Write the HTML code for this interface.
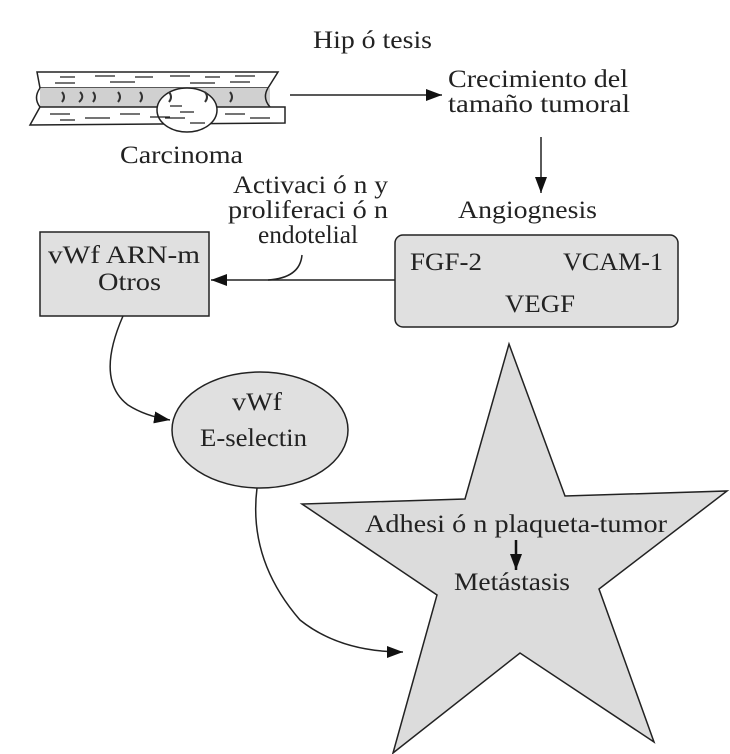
<!DOCTYPE html>
<html><head><meta charset="utf-8"><style>
body{margin:0;background:#fff}
svg{display:block}
text{font-family:"Liberation Serif",serif;font-size:25px;fill:#222}
</style></head><body>
<svg width="730" height="754" viewBox="0 0 730 754" xmlns="http://www.w3.org/2000/svg">
<defs>
<marker id="b" markerWidth="18" markerHeight="14" refX="16" refY="7" orient="auto" markerUnits="userSpaceOnUse"><path d="M0,1 L16,7 L0,13 z" fill="#111"/></marker></defs>
<!-- tube -->
<path d="M37,72 L278,72 L268,88 L40,88 Z" fill="#fff" stroke="#222" stroke-width="1.5"/>
<rect x="40" y="88" width="230" height="19" fill="#d0d0d0"/>
<path d="M40,88 Q33,98 40,107 M268,88 Q262,98 270,107" fill="none" stroke="#222" stroke-width="1.5"/>
<path d="M40,107 L285,107 L285,123 L30,125 Z" fill="#fff" stroke="#222" stroke-width="1.5"/>
<ellipse cx="187" cy="110" rx="30" ry="22" fill="#fff" stroke="#222" stroke-width="1.5"/>
<g stroke="#222" stroke-width="1.2">
<path d="M60,77h15M95,76h20M135,77h18M170,76h20M205,77h15M235,76h20M55,83h20M110,82h25M190,83h25M230,82h20"/>
<path d="M50,114h20M85,118h25M120,114h20M150,117h20M225,114h20M250,118h20M60,120h15M170,106h12M180,112h14M165,118h20M190,123h15"/>
</g>
<g fill="none" stroke="#333" stroke-width="2">
<path d="M62,92q4,5 0,10M80,92q5,5 -1,10M93,92q4,5 0,10M118,92q4,5 0,10M140,92q4,5 0,10M169,92q4,5 0,10M205,92q4,5 0,10M230,92q4,5 0,10"/>
</g>
<text x="120" y="163" textLength="123" lengthAdjust="spacingAndGlyphs">Carcinoma</text>
<text x="313" y="48" textLength="119" lengthAdjust="spacingAndGlyphs">Hip ó tesis</text>
<line x1="290" y1="95" x2="442" y2="95" stroke="#222" stroke-width="1.5" marker-end="url(#b)"/>
<text x="448" y="87" textLength="180" lengthAdjust="spacingAndGlyphs">Crecimiento del</text>
<text x="448" y="112" textLength="182" lengthAdjust="spacingAndGlyphs">tamaño tumoral</text>
<line x1="541" y1="137" x2="541" y2="193" stroke="#222" stroke-width="1.5" marker-end="url(#b)"/>
<text x="458" y="218" textLength="139" lengthAdjust="spacingAndGlyphs">Angiognesis</text>
<rect x="395" y="235" width="283" height="92" rx="8" fill="#e0e0e0" stroke="#222" stroke-width="1.5"/>
<text x="410" y="270" textLength="72" lengthAdjust="spacingAndGlyphs">FGF-2</text>
<text x="563" y="270" textLength="100" lengthAdjust="spacingAndGlyphs">VCAM-1</text>
<text x="505" y="312" textLength="70" lengthAdjust="spacingAndGlyphs">VEGF</text>
<text x="233" y="193" textLength="155" lengthAdjust="spacingAndGlyphs">Activaci ó n y</text>
<text x="228" y="218" textLength="160" lengthAdjust="spacingAndGlyphs">proliferaci ó n</text>
<text x="258" y="243" textLength="100" lengthAdjust="spacingAndGlyphs">endotelial</text>
<path d="M302,255 Q300,278 268,280" fill="none" stroke="#222" stroke-width="1.5"/>
<line x1="395" y1="280" x2="211" y2="280" stroke="#222" stroke-width="1.5" marker-end="url(#b)"/>
<rect x="40" y="232" width="169" height="84" fill="#e0e0e0" stroke="#222" stroke-width="1.5"/>
<text x="48" y="263" textLength="152" lengthAdjust="spacingAndGlyphs">vWf ARN-m</text>
<text x="98" y="290" textLength="63" lengthAdjust="spacingAndGlyphs">Otros</text>
<path d="M123,316 Q95,380 128,405 Q145,416 170,420" fill="none" stroke="#222" stroke-width="1.5" marker-end="url(#b)"/>
<ellipse cx="260" cy="430" rx="88" ry="58" fill="#e0e0e0" stroke="#222" stroke-width="1.5"/>
<text x="232" y="410" textLength="50" lengthAdjust="spacingAndGlyphs">vWf</text>
<text x="200" y="446" textLength="107" lengthAdjust="spacingAndGlyphs">E-selectin</text>
<path d="M257,488 Q248,560 300,620 Q340,652 403,652" fill="none" stroke="#222" stroke-width="1.5" marker-end="url(#b)"/>
<path d="M509,344 L565,496 L727,491 L599,589 L654,742 L520,653 L393,753 L437,595 L302,504 L465,499 Z" fill="#dcdcdc" stroke="#222" stroke-width="1.5"/>
<text x="365" y="532" textLength="302" lengthAdjust="spacingAndGlyphs">Adhesi ó n plaqueta-tumor</text>
<line x1="516" y1="540" x2="516" y2="570" stroke="#111" stroke-width="2.5" marker-end="url(#b)"/>
<text x="454" y="590" textLength="116" lengthAdjust="spacingAndGlyphs">Metástasis</text>
</svg>
</body></html>
